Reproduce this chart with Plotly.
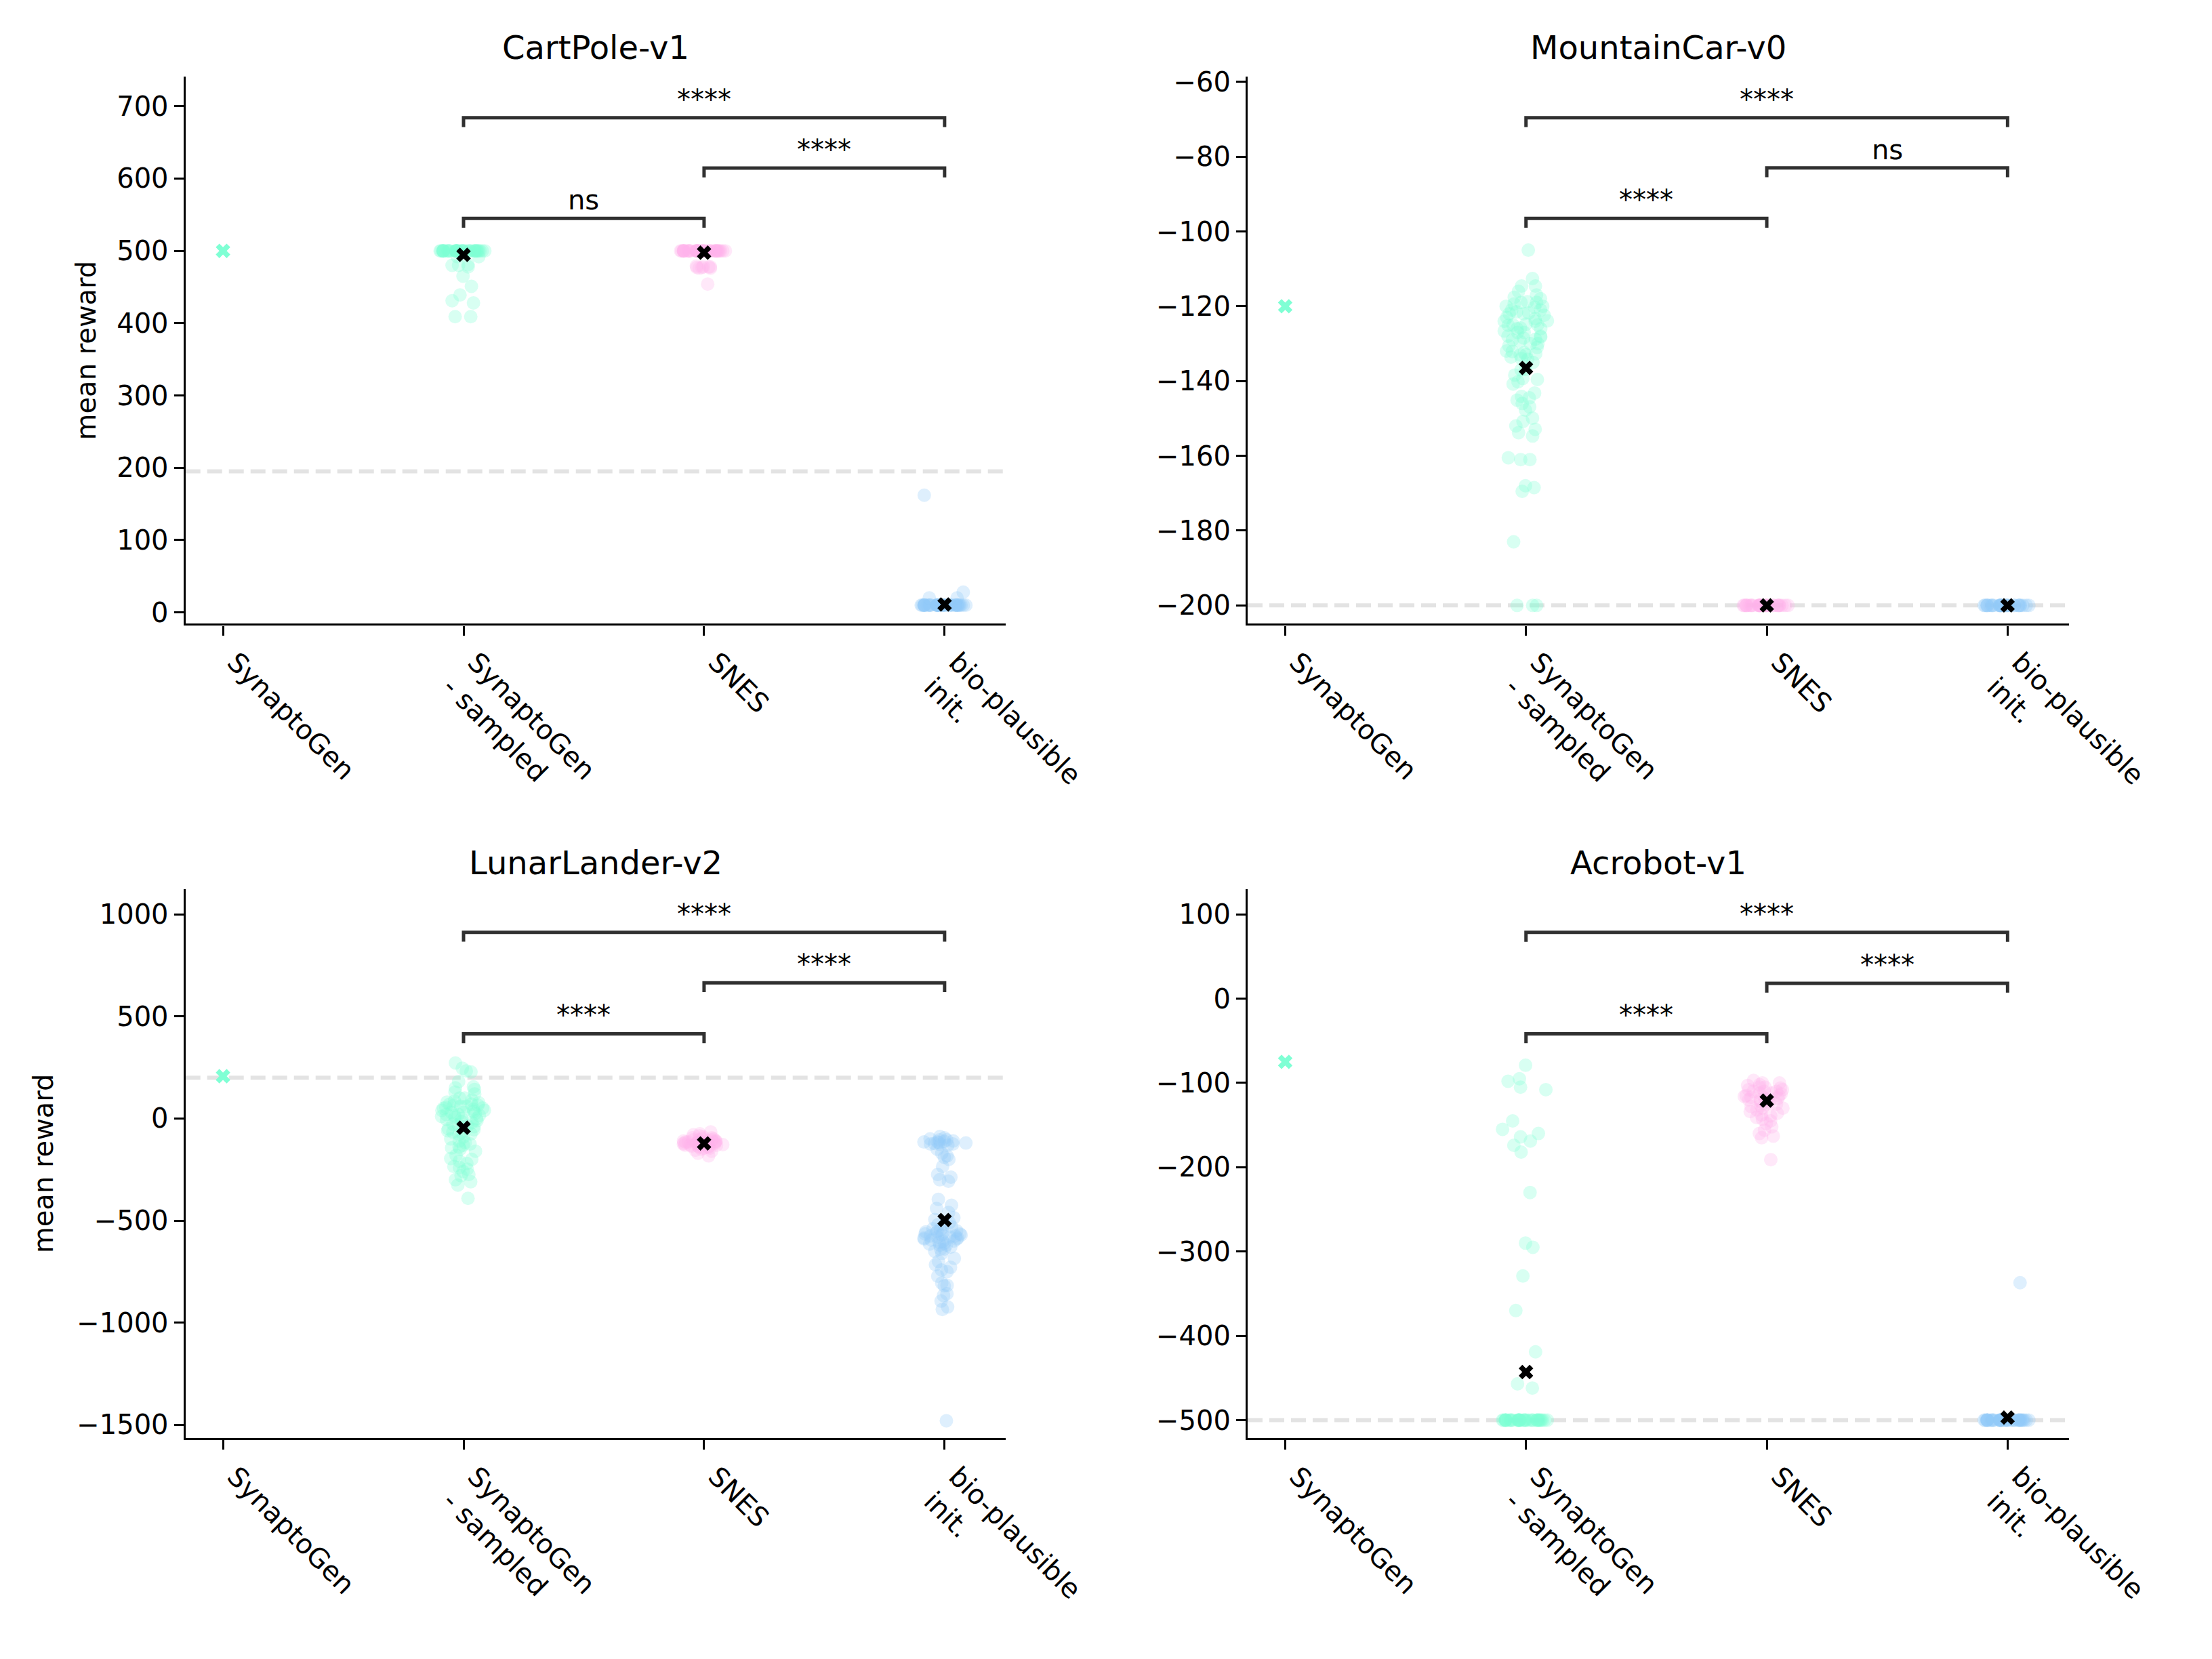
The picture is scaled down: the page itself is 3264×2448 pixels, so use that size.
import plotly.graph_objects as go

# ---- data ----
categories = ["SynaptoGen", "SynaptoGen<br>- sampled", "SNES", "bio-plausible<br>init."]
envs = ["CartPole-v1", "MountainCar-v0", "LunarLander-v2", "Acrobot-v1"]

synaptogen = [500, -120, 207, -75]
thresholds = [195, -200, 200, -500]

# each strip is kept as its dense band plus its scattered tail
cartpole_sampled = [500, 500, 500, 500, 500, 500, 500, 500, 500, 500,
                    500, 500, 500, 500, 500, 500, 500, 500, 500, 500,
                    500, 500, 500, 500, 500, 500, 500, 500, 500, 500,
                    500, 500, 500, 500, 500, 500, 500, 500, 500, 500]
cartpole_sampled_tail = [492, 492, 480, 480, 481, 478, 465, 451, 439, 428, 431, 409, 409]
cartpole_snes = [500, 500, 500, 500, 500, 500, 500, 500, 500, 500,
                 500, 500, 500, 500, 500, 500, 500, 500, 500, 500,
                 500, 500, 500, 500, 500, 500, 500, 500, 500, 500,
                 500, 500, 500, 500, 500, 500, 500, 500, 500, 500]
cartpole_snes_tail = [478, 478, 477, 476, 479, 478, 477, 476, 454]
cartpole_bio = [10, 10, 10, 10, 10, 10, 10, 10, 10, 10,
                10, 10, 10, 10, 10, 10, 10, 10, 10, 10,
                10, 10, 10, 10, 10, 10, 10, 10, 10, 10,
                10, 10, 10, 10, 10, 10, 10, 10, 10, 10]
cartpole_bio_tail = [20, 20, 28, 162]
cartpole_means = [494.5, 497.5, 11]

mountaincar_sampled = [-105, -112.6, -114.6, -114.6, -116, -117.6, -118.8, -119.4, -120.3, -121.5,
                       -121.8, -122.4, -123.3, -123.9, -124.8, -125.1, -125.8, -126.6, -128.2, -128.5,
                       -128.8, -129.4, -130.6, -132.1, -132.4, -132.7, -133, -133.6, -134.2, -136.9,
                       -138.4, -139.3, -139.6, -140.2, -140.8, -143.2, -144.1, -144.5, -145.1, -146,
                       -146.9, -147.8, -149.9, -150.8, -152, -152.9, -153.8, -154.7,
                       -117, -118, -119, -120, -121, -122, -123, -124, -125, -126,
                       -127, -128, -129, -130, -131, -132, -133, -134, -120, -122,
                       -124, -126, -128, -130, -119, -121, -125, -127, -135, -137]
mountaincar_sampled_tail = [-161, -161, -160.5, -168, -168.5, -169.5, -183, -200, -200, -200]
mountaincar_snes = [-200, -200, -200, -200, -200, -200, -200, -200, -200, -200,
                    -200, -200, -200, -200, -200, -200, -200, -200, -200, -200,
                    -200, -200, -200, -200, -200, -200, -200, -200, -200, -200]
mountaincar_bio = [-200, -200, -200, -200, -200, -200, -200, -200, -200, -200,
                   -200, -200, -200, -200, -200, -200, -200, -200, -200, -200,
                   -200, -200, -200, -200, -200, -200, -200, -200, -200, -200]
mountaincar_means = [-136.5, -200, -200]

lunarlander_sampled = [272, 246, 233, 228, 181, 155, 142, 129, 120, 100,
                       90, 80, 77, 70, 64, 60, 55, 51, 45, 40,
                       30, 25, 20, 12, 5, -1, -10, -20, -27, -40,
                       -50, -66, -78, -90, -100, -118, -125, -131, -144, -150,
                       -160, -180, -196, -209, -220, -235, -248, -260, -274, -300,
                       -310, -326, -391, 10, 15, 35, 50, 65, 85, -60,
                       -75, -110, -140, -200, -240, -280, 150, 100, 60, 30,
                       0, -30, -70, 70, 40, 20, -5, -15, -35, -55]
lunarlander_snes = [-66, -75, -80, -85, -90, -95, -100, -100, -105, -105,
                    -110, -110, -110, -115, -115, -115, -120, -120, -120, -120,
                    -125, -125, -125, -130, -130, -130, -135, -135, -140, -140,
                    -145, -150, -155, -160, -170, -183, -95, -105, -115, -125,
                    -135, -145, -118, -122, -128, -112]
lunarlander_bio = [-88, -95, -100, -105, -110, -112, -115, -118, -120, -122,
                   -125, -128, -130, -105, -115, -125, -150, -183, -190, -235,
                   -274, -287, -300, -307, -170, -200]
lunarlander_bio_tail = [-396, -425, -441, -486, -495, -510, -520, -530, -540, -550,
                        -553, -560, -565, -570, -575, -580, -585, -590, -595, -600,
                        -606, -610, -620, -560, -570, -580, -590, -545, -555, -565,
                        -575, -585, -600, -615, -630, -640, -650, -660, -685, -700,
                        -716, -729, -742, -750, -772, -806, -817, -819, -858, -867,
                        -894, -923, -935, -1480, -460, -520, -620, -640]
lunarlander_means = [-45, -122, -497]

acrobot_sampled = [-500, -500, -500, -500, -500, -500, -500, -500, -500, -500,
                   -500, -500, -500, -500, -500, -500, -500, -500, -500, -500,
                   -500, -500, -500, -500, -500, -500, -500, -500, -500, -500,
                   -500, -500, -500, -500, -500, -500, -500, -500, -500, -500]
acrobot_sampled_tail = [-79, -95, -98, -105, -108, -145, -155, -160, -164, -169,
                        -174, -182, -230, -290, -295, -329, -370, -419, -457, -462]
acrobot_snes = [-97, -100, -100, -102, -103, -105, -105, -106, -108, -108,
                -110, -110, -110, -112, -112, -113, -115, -115, -116, -117,
                -118, -118, -120, -120, -120, -122, -123, -125, -125, -127,
                -128, -130, -130, -132, -134, -136, -138, -139, -141, -143,
                -145, -148, -152, -156, -160, -163, -165, -191]
acrobot_bio = [-500, -500, -500, -500, -500, -500, -500, -500, -500, -500,
               -500, -500, -500, -500, -500, -500, -500, -500, -500, -500,
               -500, -500, -500, -500, -500, -500, -500, -500, -500, -500,
               -500, -500, -500, -500, -500, -500, -500, -500, -500, -500]
acrobot_bio_tail = [-337]
acrobot_means = [-443, -121, -497]

# significance brackets: (left category, right category), height, label
bracket_pairs = [(1, 2), (2, 3), (1, 3)]
cartpole_brackets = [545, 614.6, 684.2]
mountaincar_brackets = [-96.5, -83.0, -69.6]
lunarlander_brackets = [415, 664.8, 911.7]
acrobot_brackets = [-41.7, 18.2, 78.6]
cartpole_labels = ["ns", "****", "****"]
mountaincar_labels = ["****", "ns", "****"]
lunarlander_labels = ["****", "****", "****"]
acrobot_labels = ["****", "****", "****"]

y_ranges = [[-15.7, 741.5], [-204.9, -58.5], [-1565, 1122], [-521.3, 129.6]]
y_ticks = [list(range(0, 701, 100)), list(range(-200, -59, 20)),
           list(range(-1500, 1001, 500)), list(range(-500, 101, 100))]
bracket_drop = [12.9, 2.5, 45.8, 11.1]

panels = [
    ([[cartpole_sampled, cartpole_sampled_tail], [cartpole_snes, cartpole_snes_tail],
      [cartpole_bio, cartpole_bio_tail]], cartpole_means, cartpole_brackets, cartpole_labels),
    ([[mountaincar_sampled, mountaincar_sampled_tail], [mountaincar_snes], [mountaincar_bio]],
     mountaincar_means, mountaincar_brackets, mountaincar_labels),
    ([[lunarlander_sampled], [lunarlander_snes], [lunarlander_bio, lunarlander_bio_tail]],
     lunarlander_means, lunarlander_brackets, lunarlander_labels),
    ([[acrobot_sampled, acrobot_sampled_tail], [acrobot_snes], [acrobot_bio, acrobot_bio_tail]],
     acrobot_means, acrobot_brackets, acrobot_labels),
]

# ---- styling ----
GREEN = "#7FFFD4"
PINK = "#FFB2EB"
BLUE = "#92C9FA"
FONT = "DejaVu Sans"
PAGE_OFF = 8  # browser body margin around the plot div
W, H = 3264 - 2 * PAGE_OFF, 2448 - 2 * PAGE_OFF


def px_x(p):
    return (p - PAGE_OFF) / W


def px_y(p):
    return 1 - (p - PAGE_OFF) / H


x_domains = [[px_x(273.7), px_x(1484)], [px_x(1841), px_x(3052.6)]]
y_domains = [[px_y(920.4), px_y(112.5)], [px_y(2122), px_y(1312.4)]]

fig = go.Figure()
layout = dict(
    width=W, height=H, paper_bgcolor="white", plot_bgcolor="white",
    margin=dict(l=0, r=0, t=0, b=0), showlegend=False,
    font=dict(family=FONT, size=40, color="black"),
)
shapes = []
annotations = []

for k, (groups, means, brackets, labels) in enumerate(panels):
    row, col = k // 2, k % 2
    n = "" if k == 0 else str(k + 1)
    xref, yref = "x" + n, "y" + n

    # strip points (box traces with hidden boxes, library jitter)
    for pos, parts, color in zip([1, 2, 3], groups, [GREEN, PINK, BLUE]):
        for vals in parts:
            fig.add_trace(go.Box(
                y=vals, x0=pos, width=0.2, boxpoints="all", jitter=1, pointpos=0,
                fillcolor="rgba(0,0,0,0)", line=dict(width=0, color="rgba(0,0,0,0)"),
                marker=dict(color=color, size=20, opacity=0.3, line=dict(width=0)),
                xaxis=xref, yaxis=yref, hoverinfo="y",
            ))
    # single SynaptoGen result
    fig.add_trace(go.Scatter(
        x=[0], y=[synaptogen[k]], mode="markers",
        marker=dict(symbol="x", size=19, color=GREEN, line=dict(width=0)),
        xaxis=xref, yaxis=yref,
    ))
    # means
    fig.add_trace(go.Scatter(
        x=[1, 2, 3], y=means, mode="markers",
        marker=dict(symbol="x", size=19, color="black", line=dict(width=0)),
        xaxis=xref, yaxis=yref,
    ))

    # threshold line
    shapes.append(dict(
        type="line", xref=xref + " domain", yref=yref, x0=0, x1=1,
        y0=thresholds[k], y1=thresholds[k], layer="below",
        line=dict(color="#E3E3E3", width=6, dash="22px,10px"),
    ))
    # brackets
    d = bracket_drop[k]
    for (a, b), h, lab in zip(bracket_pairs, brackets, labels):
        shapes.append(dict(
            type="path", xref=xref, yref=yref,
            path=f"M {a},{h - d} L {a},{h} L {b},{h} L {b},{h - d}",
            line=dict(color="#303030", width=5),
        ))
        annotations.append(dict(
            x=(a + b) / 2, y=h, xref=xref, yref=yref, text=lab, showarrow=False,
            xanchor="center", yanchor="bottom", yshift=2,
            font=dict(size=40, color="black"),
        ))

    xd, yd = x_domains[col], y_domains[row]
    layout["xaxis" + n] = dict(
        domain=xd, anchor=yref, type="linear", range=[-0.156, 3.254],
        tickvals=[0, 1, 2, 3], ticktext=categories, tickangle=45, ticklabelshift=18,
        showline=True, linecolor="black", linewidth=3.3,
        ticks="outside", ticklen=14, tickwidth=3.3, tickcolor="black",
        showgrid=False, zeroline=False, automargin=False,
        tickfont=dict(size=40, family=FONT, color="black"),
    )
    layout["yaxis" + n] = dict(
        domain=yd, anchor=xref, range=y_ranges[k], tickvals=y_ticks[k],
        showline=True, linecolor="black", linewidth=3.3,
        ticks="outside", ticklen=14, tickwidth=3.3, tickcolor="black",
        showgrid=False, zeroline=False, automargin=False,
        tickfont=dict(size=40, family=FONT, color="black"),
    )

    # panel title
    annotations.append(dict(
        x=(xd[0] + xd[1]) / 2, y=[px_y(70), px_y(1273)][row],
        xref="paper", yref="paper", text=envs[k], showarrow=False,
        xanchor="center", yanchor="middle", font=dict(size=48, color="black"),
    ))

# y-axis labels on the left column
for xl, yd in [(px_x(127), y_domains[0]), (px_x(64), y_domains[1])]:
    annotations.append(dict(
        x=xl, y=(yd[0] + yd[1]) / 2, xref="paper", yref="paper",
        text="mean reward", textangle=-90, showarrow=False,
        xanchor="center", yanchor="middle", font=dict(size=40, color="black"),
    ))

layout["shapes"] = shapes
layout["annotations"] = annotations
layout["boxmode"] = "overlay"
fig.update_layout(**layout)

fig.write_html("out.html")
